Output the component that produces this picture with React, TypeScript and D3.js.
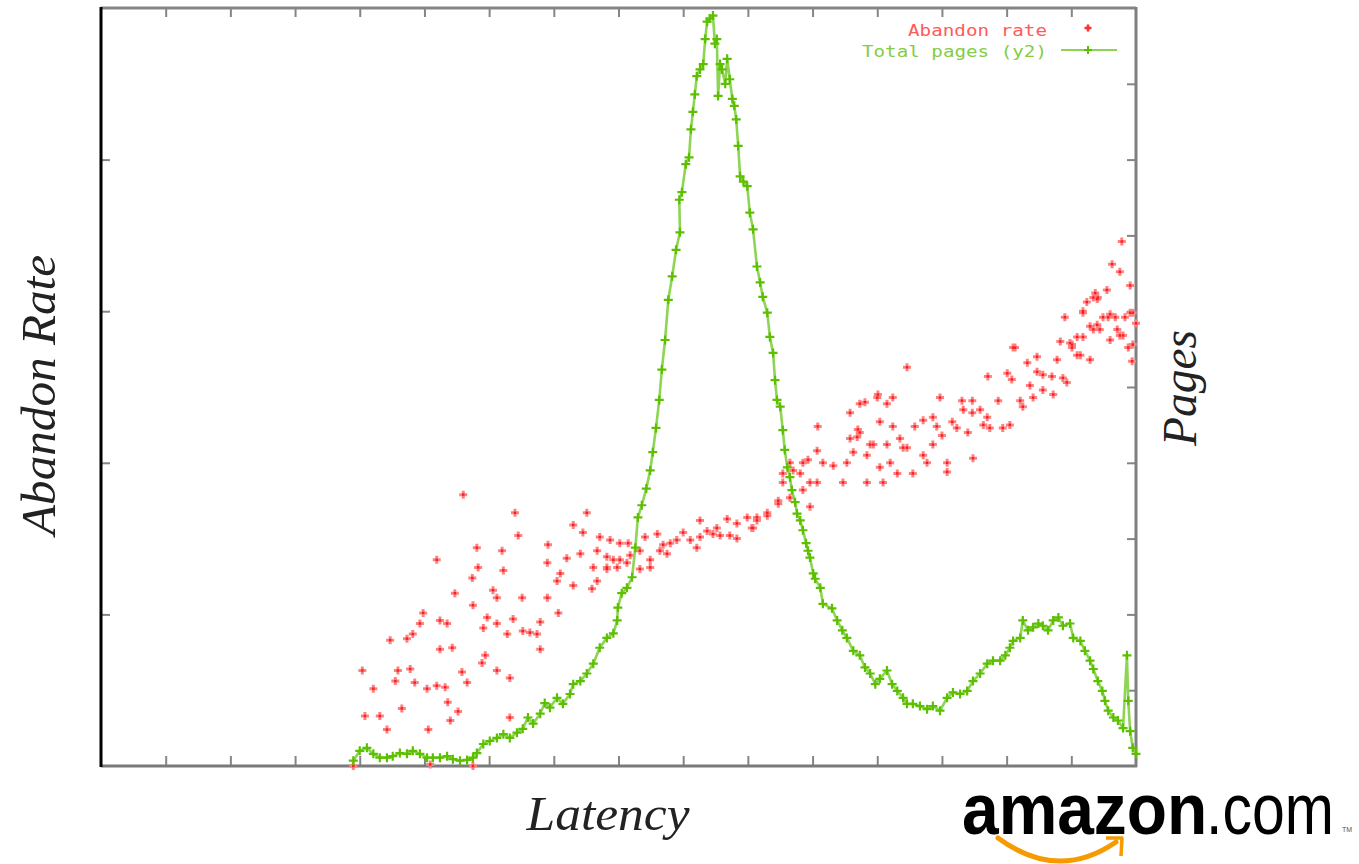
import React, { useRef, useEffect } from 'react';
import * as d3 from 'd3';

// tick positions (gnuplot style, no labels shown)
const latencyTicks = [100, 200, 300, 400, 500, 600, 700, 800, 900, 1000, 1100, 1200, 1300, 1400, 1500];
const rateTicks = [10, 20, 30, 40];
const pageTicks = [100, 200, 300, 400, 500, 600, 700, 800, 900];

// [latency, total pages] -> y2 axis
const totalPages: [number, number][] = [
  [390, 7], [400, 20], [411, 24], [421, 16], [431, 11], [442, 11], [451, 13], [462, 17], [473, 16], [482, 20],
  [493, 16], [504, 11], [513, 11], [524, 11], [535, 13], [544, 9], [555, 7], [566, 8], [575, 11], [581, 17],
  [591, 29], [601, 33], [612, 37], [622, 42], [632, 37], [643, 44], [652, 49], [660, 64], [668, 56], [679, 69],
  [686, 83], [694, 77], [705, 90], [714, 82], [725, 95], [730, 108], [741, 112], [751, 122], [761, 135], [771, 156],
  [782, 169], [792, 175], [798, 192], [799, 209], [805, 228], [813, 235], [821, 249], [826, 288], [830, 328], [836, 344],
  [843, 366], [849, 390], [853, 414], [858, 446], [863, 483], [867, 523], [872, 562], [877, 615], [883, 646], [889, 681],
  [895, 704], [894, 747], [898, 757], [904, 794], [909, 803], [912, 840], [915, 863], [918, 886], [921, 910], [926, 919],
  [931, 926], [934, 959], [937, 982], [941, 986], [946, 990], [949, 953], [952, 959], [954, 884], [957, 926], [960, 919],
  [965, 900], [968, 933], [972, 906], [976, 880], [979, 871], [982, 853], [985, 818], [988, 778], [993, 771], [999, 765],
  [1003, 730], [1008, 708], [1014, 659], [1019, 638], [1023, 619], [1030, 598], [1034, 566], [1039, 545], [1042, 509], [1045, 483],
  [1050, 474], [1054, 443], [1057, 417], [1061, 394], [1065, 381], [1068, 364], [1073, 348], [1076, 333], [1081, 324], [1085, 311],
  [1090, 294], [1093, 284], [1096, 275], [1101, 254], [1104, 247], [1112, 235], [1116, 214], [1130, 208], [1138, 192], [1146, 179],
  [1153, 169], [1163, 152], [1173, 146], [1181, 130], [1189, 122], [1197, 108], [1204, 115], [1215, 126], [1223, 108], [1231, 99],
  [1240, 90], [1246, 82], [1255, 82], [1266, 79], [1277, 75], [1286, 79], [1297, 73], [1308, 90], [1317, 97], [1328, 95],
  [1339, 99], [1348, 112], [1359, 122], [1370, 135], [1379, 139], [1390, 139], [1398, 146], [1405, 156], [1410, 165], [1421, 169],
  [1425, 192], [1433, 179], [1441, 183], [1449, 188], [1456, 185], [1464, 179], [1472, 192], [1480, 196], [1487, 185], [1498, 188],
  [1503, 169], [1514, 165], [1521, 152], [1529, 139], [1534, 128], [1541, 112], [1548, 99], [1552, 86], [1557, 73], [1565, 64],
  [1572, 60], [1580, 50], [1586, 146], [1588, 86], [1591, 46], [1595, 24], [1600, 16],
];

// [latency, abandon rate %] -> y axis
const abandonRate: [number, number][] = [
  [560, 17.9], [640, 16.7], [751, 16.7], [730, 15.9], [745, 15.4], [645, 15.2], [581, 14.4], [620, 14.2], [691, 14.6], [771, 15.1],
  [787, 14.9], [802, 14.7], [815, 14.7], [519, 13.6], [583, 13.1], [574, 12.4], [622, 12.9], [690, 13.4], [720, 13.7], [741, 14.0],
  [767, 14.2], [782, 13.8], [802, 13.6], [818, 13.9], [761, 13.1], [782, 13.1], [798, 13.1], [710, 12.7], [705, 12.2], [767, 12.2],
  [547, 11.4], [606, 11.6], [612, 11.1], [651, 11.1], [690, 11.1], [730, 11.9], [759, 11.7], [575, 10.6], [707, 10.1], [498, 10.1],
  [493, 9.4], [524, 9.6], [535, 9.4], [597, 9.8], [591, 9.1], [637, 9.7], [612, 9.4], [628, 8.7], [652, 8.9], [663, 8.8],
  [679, 9.5], [674, 8.7], [447, 8.3], [473, 8.4], [482, 8.7], [524, 7.7], [543, 7.8], [594, 7.3], [589, 6.8], [679, 7.7],
  [612, 6.3], [632, 5.8], [404, 6.3], [459, 6.3], [478, 6.4], [455, 5.6], [485, 5.5], [421, 5.1], [504, 5.1], [519, 5.3],
  [532, 5.2], [558, 6.2], [566, 5.5], [536, 4.2], [465, 3.8], [552, 3.6], [408, 3.3], [431, 3.3], [540, 3.0], [632, 3.2],
  [442, 2.4], [506, 2.4], [390, 0], [509, 0.1], [575, 0],
  [1054, 18.7], [1065, 17.7], [1047, 17.3], [1030, 16.7], [1014, 16.4], [999, 16.4], [1006, 15.7], [983, 16.0], [968, 16.3], [952, 15.7],
  [926, 16.2], [937, 15.5], [946, 15.3], [957, 15.2], [972, 15.2], [983, 15.0], [926, 15.1], [911, 14.9], [900, 15.4], [890, 14.9],
  [880, 14.7], [869, 14.6], [860, 15.3], [864, 14.2], [875, 14.0], [921, 14.4], [849, 13.6], [833, 14.2], [841, 15.1], [792, 13.6],
  [813, 13.4], [782, 13.0], [833, 13.0], [849, 13.1],
  [1108, 22.4], [1173, 23.9], [1200, 24.3], [1224, 24.3], [1215, 23.9], [1246, 26.3], [1204, 22.7], [1224, 22.4], [1170, 22.2], [1169, 21.7],
  [1189, 21.2], [1215, 21.2], [1235, 21.6], [1246, 21.0], [1258, 22.4], [1271, 22.8], [1286, 23.0], [1292, 22.4], [1300, 21.8], [1316, 22.7],
  [1323, 22.3], [1340, 22.0], [1333, 23.5], [1347, 23.3], [1359, 23.5], [1370, 23.0], [1364, 22.5], [1374, 22.3], [1394, 22.3], [1405, 22.5],
  [1331, 24.1], [1347, 24.1], [1387, 24.1], [1297, 24.3], [1371, 25.7], [1401, 25.9], [1408, 25.5], [1421, 24.1], [1425, 23.7], [1436, 25.1],
  [1441, 24.3], [1447, 26.0], [1456, 25.8], [1456, 24.8], [1470, 25.7], [1472, 24.5], [1487, 25.6], [1493, 25.3], [1432, 26.6], [1447, 27.0],
  [1410, 27.6], [1478, 26.8], [1529, 26.8], [1509, 27.1], [1483, 28.0], [1498, 27.9], [1501, 27.6], [1514, 27.1], [1518, 28.3], [1534, 28.8],
  [1540, 29.1], [1549, 29.6], [1560, 29.8], [1571, 28.8], [1575, 28.4], [1560, 28.1], [1588, 27.6], [1594, 26.7], [1591, 29.9], [1600, 29.2],
  [1518, 29.9], [1529, 29.0], [1490, 29.6], [1524, 30.6], [1540, 30.8],
  [1065, 20.0], [1085, 20.0], [1093, 20.2], [1107, 20.8], [1116, 20.0], [1132, 19.8], [1153, 20.0], [1163, 20.7], [1158, 21.6], [1173, 22.0],
  [1184, 20.5], [1194, 21.2], [1204, 19.7], [1220, 20.0], [1231, 19.3], [1240, 21.0], [1255, 19.3], [1271, 20.5], [1277, 20.0], [1286, 21.2],
  [1308, 20.0], [1308, 19.4], [1348, 20.3], [1081, 19.3], [1096, 18.7], [1107, 18.7], [1085, 18.2], [1147, 18.7], [1184, 18.7], [1209, 18.7],
  [1070, 19.5], [1054, 19.3], [1047, 17.5], [1096, 17.1], [1030, 16.5], [1014, 16.2], [1008, 15.7], [1158, 23.3], [1181, 24.0], [1201, 24.5],
  [1578, 34.6], [1563, 33.1], [1575, 32.6], [1591, 31.7], [1555, 31.4], [1537, 31.2], [1534, 30.9], [1541, 30.9], [1518, 30.0], [1557, 29.6],
  [1568, 29.6], [1583, 29.6], [1595, 29.9], [1544, 28.8], [1509, 28.3], [1580, 28.4], [1595, 27.8], [1501, 27.8], [1413, 27.6],
];

function App() {
  const canvas = useRef<HTMLDivElement>(null);

  const width = 1359;
  const height = 864;
  const left = 101;
  const right = 1136;
  const top = 8;
  const bottom = 766;

  const xScale = d3.scaleLinear().domain([0, 1600]).range([left, right]);
  const yRate = d3.scaleLinear().domain([0, 50]).range([bottom, top]);
  const yPages = d3.scaleLinear().domain([0, 1000]).range([bottom, top]);

  useEffect(() => {
    const root = d3.select(canvas.current);
    root.selectAll('*').remove();

    const svg = root.append('svg')
      .attr('width', width)
      .attr('height', height)
      .style('display', 'block')
      .style('background', '#fff');

    // ticks, all pointing inward
    const noLabel = () => '';
    const tickStyle = (g: any) => {
      g.select('.domain').remove();
      g.selectAll('.tick line').attr('stroke', '#858585').attr('stroke-width', 2);
    };
    svg.append('g').attr('transform', `translate(0,${bottom})`)
      .call(d3.axisBottom(xScale).tickValues(latencyTicks).tickSize(-10).tickFormat(noLabel)).call(tickStyle);
    svg.append('g').attr('transform', `translate(0,${top})`)
      .call(d3.axisTop(xScale).tickValues(latencyTicks).tickSize(-9).tickFormat(noLabel)).call(tickStyle);
    svg.append('g').attr('transform', `translate(${left},0)`)
      .call(d3.axisLeft(yRate).tickValues(rateTicks).tickSize(-9).tickFormat(noLabel)).call(tickStyle);
    svg.append('g').attr('transform', `translate(${right},0)`)
      .call(d3.axisRight(yPages).tickValues(pageTicks).tickSize(-9).tickFormat(noLabel)).call(tickStyle);

    // frame
    svg.append('line').attr('x1', left).attr('x2', right).attr('y1', top).attr('y2', top)
      .attr('stroke', '#858585').attr('stroke-width', 3);
    svg.append('line').attr('x1', left).attr('x2', right + 1).attr('y1', bottom).attr('y2', bottom)
      .attr('stroke', '#7a7a7a').attr('stroke-width', 3);
    svg.append('line').attr('x1', right).attr('x2', right).attr('y1', top - 1).attr('y2', bottom + 1)
      .attr('stroke', '#7f7f7f').attr('stroke-width', 3);
    svg.append('line').attr('x1', left).attr('x2', left).attr('y1', top - 1).attr('y2', bottom + 1)
      .attr('stroke', '#000').attr('stroke-width', 3);

    // abandon rate scatter
    const plus = (x: number, y: number, r: number) => `M${x - r},${y}h${2 * r}M${x},${y - r}v${2 * r}`;
    svg.append('path')
      .attr('d', abandonRate.map(d => plus(xScale(d[0]), yRate(d[1]), 4)).join(''))
      .attr('fill', 'none')
      .attr('stroke', '#ff8080')
      .attr('stroke-width', 3);
    svg.append('g').selectAll('rect')
      .data(abandonRate)
      .enter()
      .append('rect')
      .attr('x', d => xScale(d[0]) - 1.2)
      .attr('y', d => yRate(d[1]) - 1.2)
      .attr('width', 2.4)
      .attr('height', 2.4)
      .attr('fill', '#ff1a1a');

    // total pages line with points
    const line = d3.line<[number, number]>()
      .x(d => xScale(d[0]))
      .y(d => yPages(d[1]));
    svg.append('path')
      .attr('d', line(totalPages))
      .attr('fill', 'none')
      .attr('stroke', '#8ed455')
      .attr('stroke-width', 2.6);
    svg.append('path')
      .attr('d', totalPages.map(d => plus(xScale(d[0]), yPages(d[1]), 4.5)).join(''))
      .attr('fill', 'none')
      .attr('stroke', '#5cc000')
      .attr('stroke-width', 2.2);

    // legend
    const legendFont = '"DejaVu Sans Mono", monospace';
    svg.append('text')
      .attr('x', 1047).attr('y', 36)
      .attr('text-anchor', 'end')
      .attr('font-family', legendFont).attr('font-size', 15)
      .attr('textLength', 139).attr('lengthAdjust', 'spacingAndGlyphs')
      .attr('fill', '#ff5a5a')
      .text('Abandon rate');
    svg.append('path')
      .attr('d', plus(1088, 28, 3.5))
      .attr('stroke', '#ff3030').attr('stroke-width', 2.6);
    svg.append('text')
      .attr('x', 1047).attr('y', 57)
      .attr('text-anchor', 'end')
      .attr('font-family', legendFont).attr('font-size', 15)
      .attr('textLength', 185).attr('lengthAdjust', 'spacingAndGlyphs')
      .attr('fill', '#84cc44')
      .text('Total pages (y2)');
    svg.append('line')
      .attr('x1', 1061).attr('x2', 1117).attr('y1', 50).attr('y2', 50)
      .attr('stroke', '#8ed455').attr('stroke-width', 2);
    svg.append('path')
      .attr('d', plus(1088, 50, 4))
      .attr('stroke', '#5cc000').attr('stroke-width', 2);

    // axis titles
    const titleFont = '"Liberation Serif", "Times New Roman", serif';
    svg.append('text')
      .attr('transform', 'translate(55,395) rotate(-90)')
      .attr('text-anchor', 'middle')
      .attr('font-family', titleFont).attr('font-style', 'italic').attr('font-size', 48)
      .attr('textLength', 280).attr('lengthAdjust', 'spacingAndGlyphs')
      .attr('fill', '#222')
      .text('Abandon Rate');
    svg.append('text')
      .attr('transform', 'translate(1196,388) rotate(-90)')
      .attr('text-anchor', 'middle')
      .attr('font-family', titleFont).attr('font-style', 'italic').attr('font-size', 48)
      .attr('textLength', 116).attr('lengthAdjust', 'spacingAndGlyphs')
      .attr('fill', '#222')
      .text('Pages');
    svg.append('text')
      .attr('x', 608).attr('y', 830)
      .attr('text-anchor', 'middle')
      .attr('font-family', titleFont).attr('font-style', 'italic').attr('font-size', 48)
      .attr('textLength', 163).attr('lengthAdjust', 'spacingAndGlyphs')
      .attr('fill', '#222')
      .text('Latency');

    // amazon.com logo (narrowed with a horizontal scale)
    const logoFont = '"Liberation Sans", Arial, sans-serif';
    svg.append('text')
      .attr('transform', 'translate(962,834) scale(0.915,1)')
      .attr('font-family', logoFont).attr('font-weight', 'bold').attr('font-size', 72)
      .attr('fill', '#000')
      .text('amazon');
    svg.append('text')
      .attr('transform', 'translate(1206,834) scale(0.82,1)')
      .attr('font-family', logoFont).attr('font-size', 72)
      .attr('fill', '#000')
      .text('.com');
    svg.append('text')
      .attr('x', 1342).attr('y', 832)
      .attr('font-family', logoFont).attr('font-size', 7)
      .attr('fill', '#555')
      .text('TM');
    svg.append('path')
      .attr('d', 'M998,838 Q1058,882 1116,842')
      .attr('fill', 'none')
      .attr('stroke', '#f59a00').attr('stroke-width', 5).attr('stroke-linecap', 'round');
    svg.append('path')
      .attr('d', 'M1106,838 L1122,838 L1121,856')
      .attr('fill', 'none')
      .attr('stroke', '#f59a00').attr('stroke-width', 3.5).attr('stroke-linejoin', 'round');
  }, []);

  return <div ref={canvas} style={{ position: 'absolute', left: 0, top: 0 }}></div>;
}

export default App;
